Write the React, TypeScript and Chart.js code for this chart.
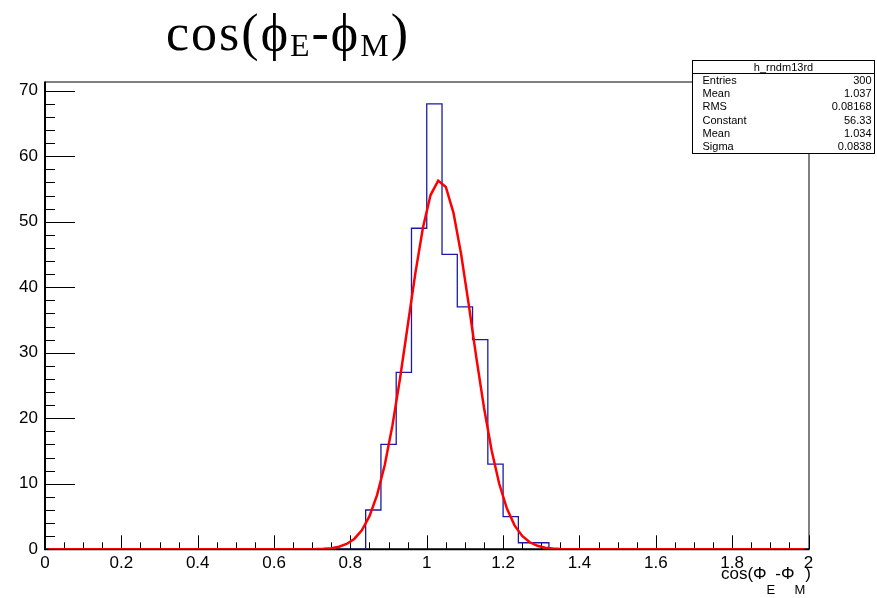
import { useEffect, useRef } from "react";
import { Chart, registerables } from "chart.js";

Chart.register(...registerables);

// ---------- data ----------
const histName = "h_rndm13rd";
const xMin = 0;
const xMax = 2;
const binWidth = 0.04; // 50 bins over [0, 2]
const binCounts = [
  0, 0, 0, 0, 0, 0, 0, 0, 0, 0,
  0, 0, 0, 0, 0, 0, 0, 0, 0, 0,
  0, 6, 16, 27, 49, 68, 45, 37, 32, 13,
  5, 1, 1, 0, 0, 0, 0, 0, 0, 0,
  0, 0, 0, 0, 0, 0, 0, 0, 0, 0,
];
// Gaussian fit curve, sampled at x = 0.01, 0.03, ..., 1.99
const fitStart = 0.01;
const fitStep = 0.02;
const fitValues = [
  0, 0, 0, 0, 0, 0, 0, 0, 0, 0,
  0, 0, 0, 0, 0, 0, 0, 0, 0, 0,
  0, 0, 0, 0, 0, 0, 0, 0, 0, 0,
  0, 0, 0, 0, 0.01, 0.03, 0.08, 0.18, 0.39, 0.81,
  1.58, 2.91, 5.06, 8.3, 12.87, 18.85, 26.08, 34.09, 42.08, 49.07,
  54.07, 56.27, 55.31, 51.36, 45.06, 37.34, 29.22, 21.61, 15.09, 9.96,
  6.21, 3.65, 2.03, 1.07, 0.53, 0.25, 0.11, 0.05, 0.02, 0,
  0, 0, 0, 0, 0, 0, 0, 0, 0, 0,
  0, 0, 0, 0, 0, 0, 0, 0, 0, 0,
  0, 0, 0, 0, 0, 0, 0, 0, 0, 0,
];
const xTickValues = [0, 0.2, 0.4, 0.6, 0.8, 1, 1.2, 1.4, 1.6, 1.8, 2];
const xMinorStep = 0.05;
const yTickValues = [0, 10, 20, 30, 40, 50, 60, 70];
const yMinorStep = 2;
const yMax = 71.4;
const statsLabels = ["Entries", "Mean", "RMS", "Constant", "Mean", "Sigma"];
const statsValues = ["300", "1.037", "0.08168", "56.33", "1.034", "0.0838"];

const sans = "'Liberation Sans', Arial, Helvetica, sans-serif";
const serif = "'Liberation Serif', 'Times New Roman', serif";

function drawPieces(
  ctx: CanvasRenderingContext2D,
  pieces: { t: string; sub: boolean }[],
  x: number,
  y: number,
  mainFont: string,
  subFont: string,
  subDy: number,
  align: "left" | "right",
  spacing: number
) {
  const c = ctx as any;
  c.letterSpacing = `${spacing}px`;
  const widths = pieces.map((p) => {
    ctx.font = p.sub ? subFont : mainFont;
    return ctx.measureText(p.t).width;
  });
  const total = widths.reduce((a, b) => a + b, 0);
  let cx = align === "left" ? x : x - total;
  ctx.textAlign = "left";
  ctx.textBaseline = "alphabetic";
  pieces.forEach((p, i) => {
    ctx.font = p.sub ? subFont : mainFont;
    ctx.fillText(p.t, cx, p.sub ? y + subDy : y);
    cx += widths[i];
  });
  c.letterSpacing = "0px";
}

const framePlugin = {
  id: "rootFrame",
  beforeDatasetsDraw(chart: any) {
    const { ctx, chartArea: a, scales } = chart;
    const xs = scales.x;
    const ys = scales.y;
    ctx.save();
    ctx.strokeStyle = "#000";
    // frame top & right
    ctx.lineWidth = 1;
    ctx.beginPath();
    ctx.moveTo(a.left, a.top + 0.5);
    ctx.lineTo(a.right + 0.5, a.top + 0.5);
    ctx.lineTo(a.right + 0.5, a.bottom);
    ctx.stroke();
    // y ticks
    for (let v = 0; v <= yMax + 1e-9; v += yMinorStep) {
      const major = yTickValues.some((t) => Math.abs(t - v) < 1e-6);
      const py = Math.round(ys.getPixelForValue(v)) + 0.5;
      ctx.beginPath();
      ctx.moveTo(a.left, py);
      ctx.lineTo(a.left + (major ? 30 : 10), py);
      ctx.stroke();
    }
    // x ticks
    for (let v = xMin; v <= xMax + 1e-9; v += xMinorStep) {
      const major = xTickValues.some((t) => Math.abs(t - v) < 1e-6);
      const px = Math.round(xs.getPixelForValue(v)) + 0.5;
      ctx.beginPath();
      ctx.moveTo(px, a.bottom);
      ctx.lineTo(px, a.bottom - (major ? 14 : 7));
      ctx.stroke();
    }
    // axes lines
    ctx.lineWidth = 2;
    ctx.beginPath();
    ctx.moveTo(a.left, a.top);
    ctx.lineTo(a.left, a.bottom);
    ctx.lineTo(a.right + 1, a.bottom);
    ctx.stroke();
    ctx.restore();
  },
  afterDraw(chart: any) {
    const { ctx } = chart;
    ctx.save();
    ctx.fillStyle = "#000";
    // title
    drawPieces(
      ctx,
      [
        { t: "cos(ϕ", sub: false },
        { t: "E", sub: true },
        { t: "-ϕ", sub: false },
        { t: "M", sub: true },
        { t: ")", sub: false },
      ],
      166,
      50,
      `52px ${serif}`,
      `32px ${serif}`,
      6,
      "left",
      2
    );
    // x axis title
    drawPieces(
      ctx,
      [
        { t: "cos(Φ", sub: false },
        { t: "E", sub: true },
        { t: "-Φ", sub: false },
        { t: "M", sub: true },
        { t: ")", sub: false },
      ],
      811,
      579,
      `17px ${sans}`,
      `13px ${sans}`,
      15,
      "right",
      0
    );
    // stats box
    const bx = 692.5;
    const by = 60.5;
    const bw = 182;
    const bh = 93;
    const titleH = 13;
    ctx.fillStyle = "#fff";
    ctx.fillRect(bx, by, bw, bh);
    ctx.strokeStyle = "#000";
    ctx.lineWidth = 1;
    ctx.strokeRect(bx, by, bw, bh);
    ctx.beginPath();
    ctx.moveTo(bx, by + titleH);
    ctx.lineTo(bx + bw, by + titleH);
    ctx.stroke();
    ctx.fillStyle = "#000";
    ctx.font = `11px ${sans}`;
    ctx.textBaseline = "middle";
    ctx.textAlign = "center";
    ctx.fillText(histName, bx + bw / 2, by + titleH / 2 + 0.5);
    const rowH = (bh - titleH) / statsLabels.length;
    statsLabels.forEach((lab, i) => {
      const cy = by + titleH + rowH * (i + 0.5) + 0.5;
      ctx.textAlign = "left";
      ctx.fillText(lab, bx + 10, cy);
      ctx.textAlign = "right";
      ctx.fillText(statsValues[i], bx + bw - 3, cy);
    });
    ctx.restore();
  },
};

export default function App() {
  const ref = useRef<HTMLCanvasElement>(null);
  useEffect(() => {
    const canvas = ref.current;
    if (!canvas) return;
    const histPoints = binCounts.map((c, i) => ({ x: xMin + i * binWidth, y: c }));
    histPoints.push({ x: xMax, y: 0 });
    const fitPoints = fitValues.map((v, i) => ({ x: fitStart + i * fitStep, y: v }));

    const chart = new Chart(canvas, {
      type: "line",
      data: {
        datasets: [
          {
            label: "gaus",
            data: fitPoints,
            borderColor: "#ff0000",
            borderWidth: 2.5,
            pointRadius: 0,
            fill: false,
            tension: 0,
          },
          {
            label: histName,
            data: histPoints,
            borderColor: "#1a1aa6",
            borderWidth: 1.3,
            pointRadius: 0,
            stepped: true,
            fill: false,
          },
        ],
      },
      options: {
        responsive: false,
        animation: false,
        events: [],
        layout: { padding: { top: 81.5, right: 68.5, left: 0, bottom: 0 } },
        plugins: {
          legend: { display: false },
          tooltip: { enabled: false },
          title: { display: false },
        },
        scales: {
          x: {
            type: "linear",
            min: xMin,
            max: xMax,
            border: { display: false },
            grid: { display: false, drawTicks: false, tickLength: 0 },
            afterBuildTicks: (s: any) => {
              s.ticks = xTickValues.map((v) => ({ value: v }));
            },
            afterFit: (s: any) => {
              s.height = 48.7;
            },
            ticks: {
              autoSkip: false,
              maxRotation: 0,
              padding: 4,
              color: "#000",
              font: { family: sans, size: 17 },
              callback: (v: any) => String(Number(Number(v).toFixed(2))),
            },
          },
          y: {
            type: "linear",
            min: 0,
            max: yMax,
            border: { display: false },
            grid: { display: false, drawTicks: false, tickLength: 0 },
            afterBuildTicks: (s: any) => {
              s.ticks = yTickValues.map((v) => ({ value: v }));
            },
            afterFit: (s: any) => {
              s.width = 45;
            },
            ticks: {
              autoSkip: false,
              padding: 7,
              color: "#000",
              font: { family: sans, size: 17 },
              callback: (v: any) => String(v),
            },
          },
        },
      },
      plugins: [framePlugin],
    } as any);
    return () => chart.destroy();
  }, []);

  return (
    <div style={{ position: "fixed", left: 0, top: 0, width: 877, height: 598, background: "#fff" }}>
      <canvas ref={ref} width={877} height={598} style={{ display: "block", width: 877, height: 598 }} />
    </div>
  );
}
